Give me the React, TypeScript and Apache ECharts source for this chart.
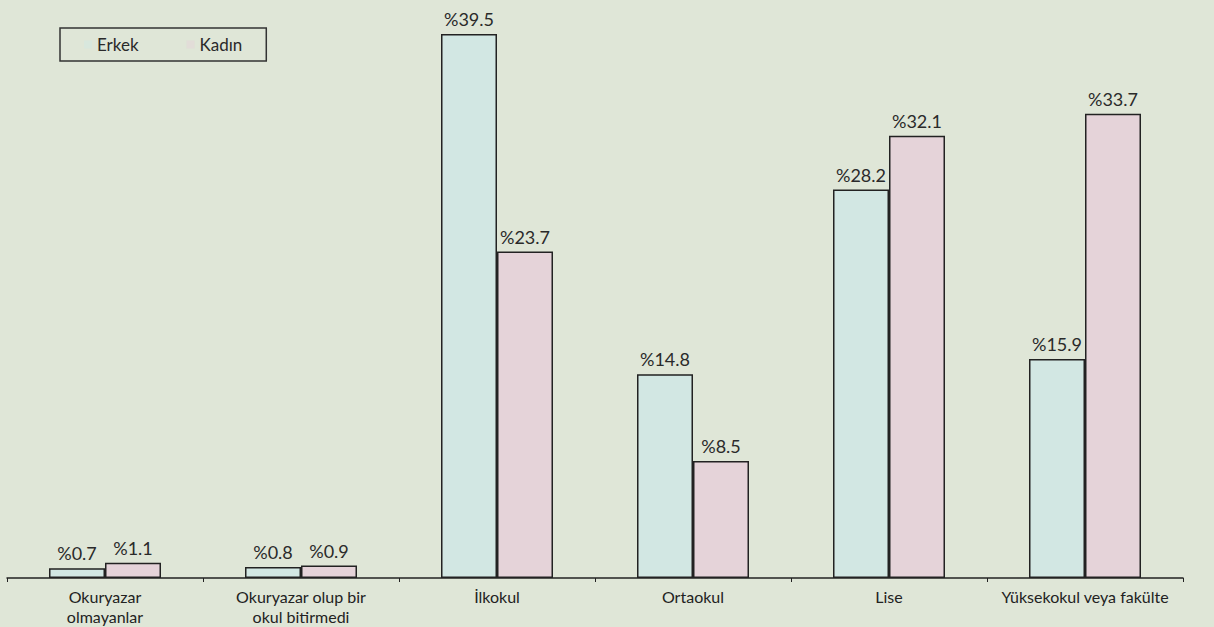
import React, { useEffect, useRef } from "react";
import * as echarts from "echarts";

const categories = [
  "Okuryazar\nolmayanlar",
  "Okuryazar olup bir\nokul bitirmedi",
  "İlkokul",
  "Ortaokul",
  "Lise",
  "Yüksekokul veya fakülte",
];
const erkek = [0.7, 0.8, 39.5, 14.8, 28.2, 15.9];
const kadin = [1.1, 0.9, 23.7, 8.5, 32.1, 33.7];
const seriesNames = ["Erkek", "Kadın"];

const FONT = "Lato, 'Open Sans', sans-serif";

export default function App() {
  const ref = useRef<HTMLDivElement>(null);
  useEffect(() => {
    if (!ref.current) return;
    const chart = echarts.init(ref.current, null, { renderer: "svg" });
    const label = {
      show: true,
      position: "top" as const,
      distance: 6,
      formatter: (p: any) => "%" + p.value,
      color: "#2a2a2a",
      fontFamily: FONT,
      fontSize: 18,
    };
    chart.setOption({
      animation: false,
      backgroundColor: "#dfe6d7",
      textStyle: { fontFamily: FONT },
      legend: {
        left: 60,
        top: 28,
        data: seriesNames,
        icon: "rect",
        itemWidth: 8,
        itemHeight: 8,
        itemGap: 48,
        padding: [8, 24, 8, 24],
        borderColor: "#333",
        borderWidth: 1.5,
        itemStyle: { borderWidth: 0, opacity: 0.5 },
        textStyle: { color: "#2a2a2a", fontSize: 17, fontFamily: FONT },
      },
      grid: { left: 7, right: 31, top: 27, bottom: 49 },
      xAxis: {
        type: "category",
        data: categories,
        axisLine: { lineStyle: { color: "#222", width: 1.5 } },
        axisTick: { show: true, length: 4, lineStyle: { color: "#222" } },
        axisLabel: {
          color: "#222",
          fontSize: 16,
          lineHeight: 20,
          margin: 8,
          interval: 0,
          fontFamily: FONT,
        },
      },
      yAxis: {
        type: "value",
        min: 0,
        max: 40,
        show: false,
        splitLine: { show: false },
      },
      series: [
        {
          name: seriesNames[0],
          type: "bar",
          data: erkek,
          barWidth: 56,
          barGap: "0%",
          itemStyle: { color: "#d2e7e3", borderColor: "#222", borderWidth: 1.5 },
          label,
        },
        {
          name: seriesNames[1],
          type: "bar",
          data: kadin,
          barWidth: 56,
          itemStyle: { color: "#e5d3d9", borderColor: "#222", borderWidth: 1.5 },
          label,
        },
      ],
    });
    return () => chart.dispose();
  }, []);
  return (
    <div
      ref={ref}
      style={{ position: "fixed", left: 0, top: 0, width: 1214, height: 627 }}
    />
  );
}
